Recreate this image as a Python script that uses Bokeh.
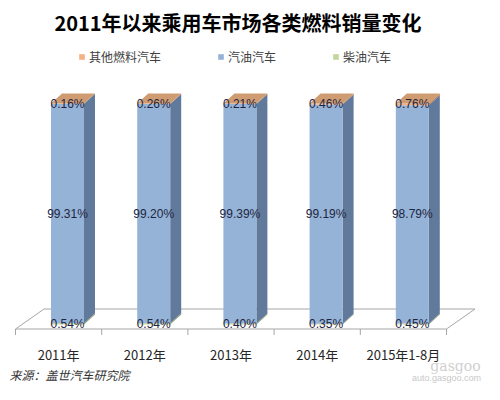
from bokeh.plotting import figure
from bokeh.models import Range1d, Label, Legend, LegendItem
from bokeh.core.properties import value
from bokeh.embed import file_html
from bokeh.resources import INLINE

# ---- data ----
categories = ["2011年", "2012年", "2013年", "2014年", "2015年1-8月"]
diesel = [0.54, 0.54, 0.40, 0.35, 0.45]          # 柴油汽车 (bottom)
gasoline = [99.31, 99.20, 99.39, 99.19, 98.79]   # 汽油汽车 (middle)
other = [0.16, 0.26, 0.21, 0.46, 0.76]           # 其他燃料汽车 (top)
series_names = ["其他燃料汽车", "汽油汽车", "柴油汽车"]
title_text = "2011年以来乘用车市场各类燃料销量变化"
source_text = "来源：盖世汽车研究院"

# ---- layout constants (pixels) ----
W, H = 484, 384
X0_PX = 58.1      # pixel x of category 0 centre
XS = 86.2         # pixels per category
Y0_PX = 60.0      # pixel (from bottom) of 0%
YS = 2.21         # pixels per percent


def px_x(px):
    return px / XS


def px_y(px):
    return px / YS


CJK = "Noto Sans CJK SC"

p = figure(width=W, height=H, output_backend="svg", toolbar_location=None,
           x_range=Range1d(-X0_PX / XS, (W - X0_PX) / XS),
           y_range=Range1d(-Y0_PX / YS, (H - Y0_PX) / YS),
           min_border=0, x_axis_location=None, y_axis_location=None)
p.grid.visible = False
p.outline_line_color = None
p.background_fill_color = "white"
p.border_fill_color = "white"

n = len(categories)
# ---- floor ----
floor_front = -px_y(4.5)
floor_back = floor_front + px_y(20)
fl_dx = px_x(28.5)
left_edge, right_edge = -0.5, n - 0.5
p.patch([left_edge, right_edge, right_edge + fl_dx, left_edge + fl_dx],
        [floor_front, floor_front, floor_back, floor_back],
        fill_color=None, line_color="#A6A6A6", line_width=1)
tick_x = [i - 0.5 for i in range(n + 1)]
p.segment(x0=tick_x, y0=[floor_front] * len(tick_x), x1=tick_x,
          y1=[floor_front - px_y(6)] * len(tick_x), line_color="#A6A6A6", line_width=1)

# ---- bars ----
bar_off = px_x(8.9)
bar_w = px_x(33)
side_dx = px_x(11)
side_dy = px_y(10)

front_cols = {"other": "#F4B183", "gas": "#95B3D7", "diesel": "#C3D69B"}
side_cols = {"other": "#B57F55", "gas": "#617A9B", "diesel": "#8A9B66"}
top_col = "#CF9C72"

lefts = [i + bar_off - bar_w / 2 for i in range(n)]
rights = [l + bar_w for l in lefts]
b_d = [0.0] * n
t_d = [d for d in diesel]
b_g = t_d
t_g = [d + g for d, g in zip(diesel, gasoline)]
b_o = t_g
t_o = [a + o for a, o in zip(t_g, other)]

segs = [("diesel", b_d, t_d), ("gas", b_g, t_g), ("other", b_o, t_o)]
renderers = {}
for key, bots, tops in segs:
    xs = [[r, r + side_dx, r + side_dx, r] for r in rights]
    ys = [[b, b + side_dy, t + side_dy, t] for b, t in zip(bots, tops)]
    p.patches(xs, ys, fill_color=side_cols[key], line_color=None)
    renderers[key] = p.quad(left=lefts, right=rights, bottom=bots, top=tops,
                            fill_color=front_cols[key], line_color=None)

# top faces
txs = [[l, r, r + side_dx, l + side_dx] for l, r in zip(lefts, rights)]
tys = [[t, t, t + side_dy, t + side_dy] for t in t_o]
p.patches(txs, tys, fill_color=top_col, line_color=None)

# ---- data labels ----
cx = [i + bar_off for i in range(n)]
lab_x, lab_y, lab_t = [], [], []
for vals, bots in ((diesel, b_d), (gasoline, b_g), (other, b_o)):
    for i in range(n):
        lab_x.append(cx[i])
        lab_y.append(bots[i] + vals[i] / 2)
        lab_t.append(f"{vals[i]:.2f}%")
p.text(x=lab_x, y=lab_y, text=lab_t, text_align="center", text_baseline="middle",
       text_font=value("Liberation Sans"), text_font_size="12px", text_color="#1F2540")

# ---- category labels ----
p.text(x=list(range(n)), y=[-px_y(30)] * n, text=categories, text_align="center",
       text_baseline="middle", text_font=value(CJK), text_font_size="13px",
       text_color="#262626")

# ---- legend ----
legend = Legend(items=[LegendItem(label=series_names[0], renderers=[renderers["other"]]),
                       LegendItem(label=series_names[1], renderers=[renderers["gas"]]),
                       LegendItem(label=series_names[2], renderers=[renderers["diesel"]])],
                orientation="horizontal", location=(78, 319), padding=0, margin=0,
                spacing=56, glyph_width=7, glyph_height=7, label_height=12,
                label_standoff=4, label_text_font=CJK, label_text_font_size="12px",
                label_text_color="#404040", border_line_color=None,
                background_fill_alpha=0)
p.add_layout(legend, "center")

# ---- title ----
p.add_layout(Label(x=237.5, y=362, x_units="screen", y_units="screen", text=title_text,
                   text_align="center", text_baseline="middle", text_font=CJK,
                   text_font_size="20px", text_font_style="bold", text_color="#000000"))

# ---- source ----
p.add_layout(Label(x=9, y=10, x_units="screen", y_units="screen", text=source_text,
                   text_align="left", text_baseline="middle", text_font=CJK,
                   text_font_size="12px", text_font_style="italic", text_color="#333333"))

# ---- watermark ----
p.add_layout(Label(x=455, y=19, x_units="screen", y_units="screen", text="gasgoo",
                   text_align="center", text_baseline="middle", text_font="DejaVu Serif",
                   text_font_size="14px", text_color="#CFCFCF"))
p.add_layout(Label(x=446, y=7, x_units="screen", y_units="screen", text="auto.gasgoo.com",
                   text_align="center", text_baseline="middle", text_font="Liberation Sans",
                   text_font_size="9px", text_color="#C8C8C8"))

open("out.html", "w").write(file_html(p, INLINE))
